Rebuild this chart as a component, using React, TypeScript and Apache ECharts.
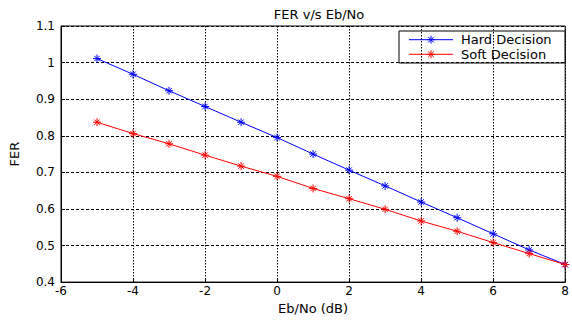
import React, { useEffect, useRef } from "react";
import * as echarts from "echarts";

const ebNo = [-5, -4, -3, -2, -1, 0, 1, 2, 3, 4, 5, 6, 7, 8];
const hardDecision = [1.011, 0.968, 0.923, 0.880, 0.837, 0.795, 0.750, 0.706, 0.663, 0.619, 0.576, 0.532, 0.488, 0.448];
const softDecision = [0.837, 0.806, 0.778, 0.747, 0.717, 0.689, 0.656, 0.628, 0.599, 0.567, 0.539, 0.508, 0.478, 0.448];
const seriesNames = ["Hard Decision", "Soft Decision"];
const seriesColors = ["#0000ff", "#ff0000"];

const STAR = "path://M5,0L5,10M0,5L10,5M1.6,1.6L8.4,8.4M1.6,8.4L8.4,1.6";
const FONT = "DejaVu Sans";

function starGroup(cx: number, cy: number, color: string) {
  const r = 4;
  const d = 2.8;
  const st = { stroke: color, lineWidth: 1 };
  return {
    type: "group",
    children: [
      { type: "line", shape: { x1: cx - r, y1: cy, x2: cx + r, y2: cy }, style: st },
      { type: "line", shape: { x1: cx, y1: cy - r, x2: cx, y2: cy + r }, style: st },
      { type: "line", shape: { x1: cx - d, y1: cy - d, x2: cx + d, y2: cy + d }, style: st },
      { type: "line", shape: { x1: cx - d, y1: cy + d, x2: cx + d, y2: cy - d }, style: st },
    ],
  };
}

export default function App() {
  const ref = useRef<HTMLDivElement>(null);
  useEffect(() => {
    document.body.style.margin = "0";
    if (!ref.current) return;
    const chart = echarts.init(ref.current, undefined, { renderer: "svg" });
    const mk = (name: string, vals: number[], color: string) => ({
      name,
      type: "line",
      data: ebNo.map((x, i) => [x, vals[i]]),
      symbol: STAR,
      symbolSize: 8,
      showSymbol: true,
      lineStyle: { color, width: 1 },
      itemStyle: { color, borderColor: color, borderWidth: 1 },
    });
    const legendRows = [39.7, 54.3];
    const legendChildren: any[] = [
      {
        type: "rect",
        shape: { x: 399, y: 31, width: 166, height: 32 },
        style: { fill: "#fff", stroke: "#000", lineWidth: 1 },
      },
    ];
    seriesNames.forEach((n, i) => {
      const y = legendRows[i];
      legendChildren.push({
        type: "line",
        shape: { x1: 409, y1: y, x2: 453, y2: y },
        style: { stroke: seriesColors[i], lineWidth: 1 },
      });
      legendChildren.push(starGroup(431, y, seriesColors[i]));
      legendChildren.push({
        type: "text",
        x: 461,
        y,
        style: {
          text: n,
          fontFamily: FONT,
          fontSize: 13,
          fill: "#000",
          textVerticalAlign: "middle",
          verticalAlign: "middle",
        },
      });
    });
    chart.setOption({
      animation: false,
      backgroundColor: "#fff",
      title: {
        text: "FER v/s Eb/No",
        left: 314,
        top: 3,
        textAlign: "center",
        textStyle: { fontFamily: FONT, fontSize: 13, fontWeight: "normal", color: "#000" },
      },
      grid: {
        left: 60,
        right: 3,
        top: 26,
        bottom: 32,
        show: true,
        borderColor: "#000",
        borderWidth: 1,
      },
      xAxis: {
        type: "value",
        min: -6,
        max: 8,
        interval: 2,
        name: "Eb/No (dB)",
        nameLocation: "middle",
        nameGap: 15,
        nameTextStyle: { fontFamily: FONT, fontSize: 13, color: "#000" },
        axisLine: { show: true, onZero: false, lineStyle: { color: "#000" } },
        axisTick: { show: true, inside: true, length: 4, lineStyle: { color: "#000" } },
        axisLabel: { fontFamily: FONT, fontSize: 12, color: "#000", margin: 3 },
        splitLine: { show: true, lineStyle: { color: "#000", type: [1.5, 1.5], width: 1 } },
      },
      yAxis: {
        type: "value",
        min: 0.4,
        max: 1.1,
        interval: 0.1,
        name: "FER",
        nameLocation: "middle",
        nameRotate: 90,
        nameGap: 40,
        nameTextStyle: { fontFamily: FONT, fontSize: 13, color: "#000" },
        axisLine: { show: true, onZero: false, lineStyle: { color: "#000" } },
        axisTick: { show: true, inside: true, length: 4, lineStyle: { color: "#000" } },
        axisLabel: { fontFamily: FONT, fontSize: 12, color: "#000", margin: 6 },
        splitLine: { show: true, lineStyle: { color: "#000", type: [3, 2], width: 1 } },
      },
      series: [
        mk(seriesNames[0], hardDecision, seriesColors[0]),
        mk(seriesNames[1], softDecision, seriesColors[1]),
      ],
      graphic: { elements: legendChildren },
    });
    return () => chart.dispose();
  }, []);
  return <div ref={ref} style={{ width: 572, height: 320 }} />;
}
